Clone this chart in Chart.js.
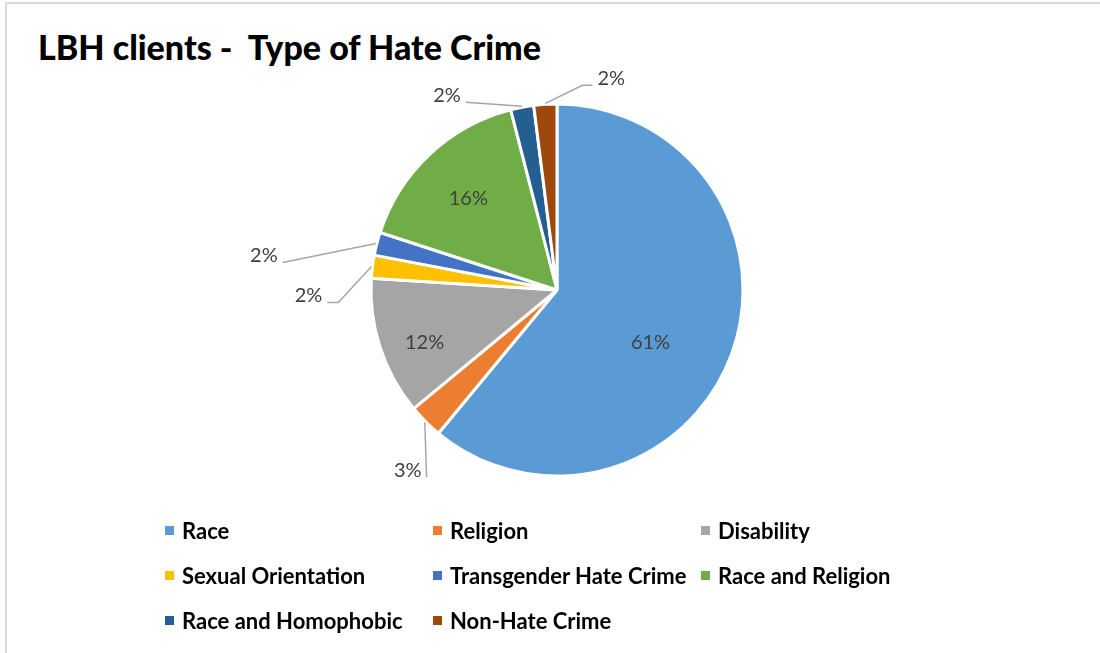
<!DOCTYPE html>
<html>
<head>
<meta charset="utf-8">
<script src="https://cdn.jsdelivr.net/npm/chart.js@4.4.1/dist/chart.umd.min.js"></script>
<style>
  body { margin: 0; background: #fff; }
  #wrap { position: relative; width: 1100px; height: 653px; overflow: hidden; background: #fff; }
  #frame { position: absolute; left: 5px; top: 2px; width: 1200px; height: 800px; border: 2px solid #d9d9d9; box-sizing: border-box; }
  #title { position: absolute; left: 38px; top: 26px; font: 900 34px Lato, sans-serif; color: #000; white-space: pre; }
  #pie { position: absolute; left: 0; top: 0; }
  #legend { position: absolute; left: 165px; top: 518px; display: grid; grid-template-columns: 268px 268px 268px; grid-auto-rows: 45px; }
  .item { display: flex; align-items: center; height: 24px; font: bold 22px Lato, sans-serif; color: #000; white-space: nowrap; }
  .box { width: 9px; height: 9px; margin-right: 8px; flex: none; }
</style>
</head>
<body>
<div id="wrap">
  <div id="frame"></div>
  <div id="title">LBH clients -  Type of Hate Crime</div>
  <canvas id="pie" width="1100" height="653"></canvas>
  <div id="legend"></div>
</div>
<script>
const categories = [
  "Race",
  "Religion",
  "Disability",
  "Sexual Orientation",
  "Transgender Hate Crime",
  "Race and Religion",
  "Race and Homophobic",
  "Non-Hate Crime",
];
const shares = [61, 3, 12, 2, 2, 16, 2, 2];
const colours = [
  "#5b9bd5",
  "#ed7d31",
  "#a5a5a5",
  "#ffc000",
  "#4472c4",
  "#70ad47",
  "#255e91",
  "#9e480e",
];

// where each percentage sits: inside ones are moved from the slice centroid,
// outside ones from the slice's outer edge and get a leader line
const labelPlacement = [
  { inside: true, dx: 6, dy: 21 },
  { dx: -17, dy: 48, elbow: 0 },
  { inside: true, dx: -44, dy: 24 },
  { dx: -63, dy: 29, elbow: 11 },
  { dx: -112, dy: 12, elbow: 0 },
  { inside: true, dx: -25, dy: -24 },
  { dx: -75, dy: -11, elbow: 0 },
  { dx: 66, dy: -25, elbow: -10 },
];

const pieLabels = {
  id: "pieLabels",
  afterDatasetsDraw(chart) {
    const ctx = chart.ctx;
    const meta = chart.getDatasetMeta(0);
    const total = shares.reduce((a, b) => a + b, 0);
    ctx.save();
    ctx.font = "20px Lato, sans-serif";
    ctx.textAlign = "center";
    ctx.textBaseline = "middle";
    meta.data.forEach((arc, i) => {
      const p = arc.getProps(["x", "y", "startAngle", "endAngle", "outerRadius"], true);
      const mid = (p.startAngle + p.endAngle) / 2;
      const text = `${Math.round((shares[i] / total) * 100)}%`;
      const place = labelPlacement[i];
      if (place.inside) {
        const c = arc.tooltipPosition(true);
        ctx.fillStyle = "#404040";
        ctx.fillText(text, c.x + place.dx, c.y + place.dy);
        return;
      }
      const ex = p.x + Math.cos(mid) * (p.outerRadius + 1);
      const ey = p.y + Math.sin(mid) * (p.outerRadius + 1);
      const lx = ex + place.dx;
      const ly = ey + place.dy;
      const w = ctx.measureText(text).width;
      const ax = place.dx < 0 ? lx + w / 2 + 5 : lx - w / 2 - 5;
      const ay = ly + 7;
      ctx.strokeStyle = "#a6a6a6";
      ctx.lineWidth = 1.5;
      ctx.beginPath();
      ctx.moveTo(ax, ay);
      if (place.elbow) ctx.lineTo(ax + place.elbow, ay);
      ctx.lineTo(ex, ey);
      ctx.stroke();
      ctx.fillStyle = "#404040";
      ctx.fillText(text, lx, ly);
    });
    ctx.restore();
  },
};

function buildLegend() {
  const legend = document.getElementById("legend");
  categories.forEach((name, i) => {
    const item = document.createElement("div");
    item.className = "item";
    const box = document.createElement("span");
    box.className = "box";
    box.style.background = colours[i];
    item.appendChild(box);
    item.appendChild(document.createTextNode(name));
    legend.appendChild(item);
  });
}

function createPie() {
  const ctx = document.getElementById("pie").getContext("2d");
  return new Chart(ctx, {
    type: "pie",
    data: {
      labels: categories,
      datasets: [
        {
          data: shares,
          backgroundColor: colours,
          borderColor: "#ffffff",
          borderWidth: 3,
          radius: 186,
        },
      ],
    },
    options: {
      responsive: false,
      animation: false,
      events: [],
      layout: { padding: { left: 357, right: 343, top: 90, bottom: 163 } },
      plugins: {
        legend: { display: false },
        tooltip: { enabled: false },
      },
    },
    plugins: [pieLabels],
  });
}

buildLegend();
createPie();
</script>
</body>
</html>
